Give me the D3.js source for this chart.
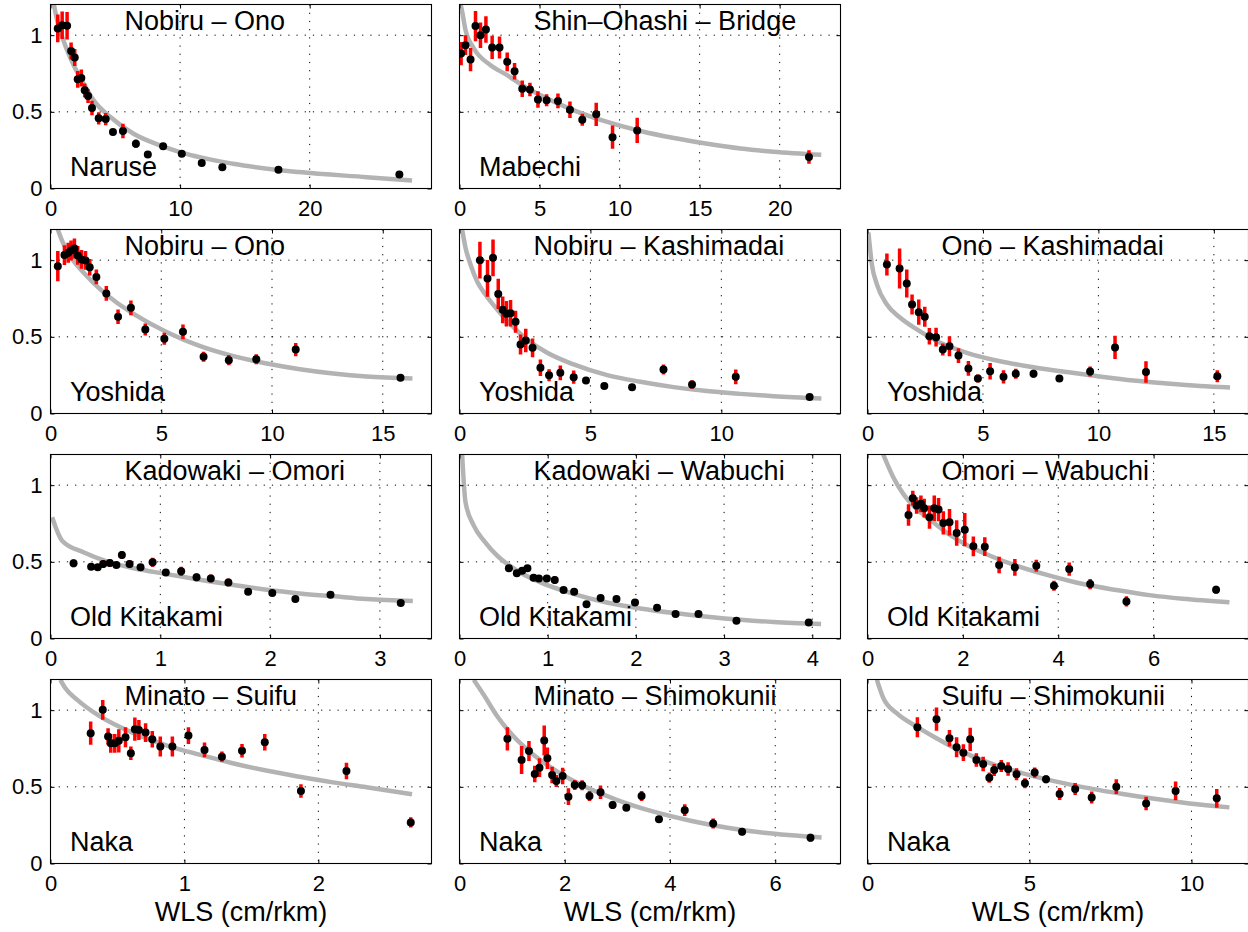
<!DOCTYPE html>
<html>
<head>
<meta charset="utf-8">
<script src="https://cdn.jsdelivr.net/npm/d3@7"></script>
<style>
  body { margin: 0; background: #fff; }
  svg { display: block; }
  text { font-family: "Liberation Sans", Arial, Helvetica, sans-serif; fill: #000; }
</style>
</head>
<body>
<svg id="chart" width="1248" height="932"></svg>
<script>
// ---- Shared axis values ----
const yTicks = [0, 0.5, 1];
const yMax = 1.2;
const xLabel = "WLS (cm/rkm)";

// ---- Panel: Nobiru – Ono (Naruse) ----
const naruseX   = [0.56,0.9,1.28,1.59,1.87,2.1,2.38,2.64,2.9,3.2,3.72,4.26,4.82,5.59,6.59,7.51,8.69,10.13,11.67,13.26,17.59,26.92];
const naruseY   = [1.044,1.065,1.061,0.897,0.854,0.712,0.721,0.64,0.603,0.525,0.458,0.453,0.368,0.375,0.292,0.222,0.275,0.227,0.166,0.139,0.122,0.092];
const naruseErr = [0.09,0.09,0.09,0.055,0.055,0.055,0.055,0.045,0.045,0.048,0.04,0.04,0.02,0.048,0.028,0.017,0.017,0.01,0.01,0.008,0.008,0.006];
const naruseFitX = [0.26,0.51,0.9,1.28,1.79,2.56,3.33,4.62,6.41,8.46,10,14.1,19.2,24.4,27.9];
const naruseFitY = [1.2,1.098,0.989,0.902,0.804,0.684,0.575,0.466,0.357,0.281,0.237,0.161,0.107,0.074,0.052];
const naruseTicks = [0, 10, 20];

// ---- Panel: Shin–Ohashi – Bridge (Mabechi) ----
const mabechiX   = [0.1,0.375,0.69,1.0,1.31,1.65,2.04,2.5,2.98,3.44,3.92,4.4,4.9,5.44,6.15,6.9,7.67,8.54,9.56,11.1,21.83];
const mabechiY   = [0.88,0.935,0.841,1.059,1.0,1.037,0.92,0.92,0.826,0.765,0.651,0.645,0.58,0.575,0.571,0.514,0.449,0.484,0.335,0.379,0.205];
const mabechiErr = [0.076,0.065,0.076,0.098,0.083,0.087,0.076,0.072,0.061,0.054,0.054,0.044,0.054,0.039,0.048,0.054,0.039,0.076,0.076,0.083,0.044];
const mabechiFitX = [0.06,0.104,0.375,0.9,1.94,2.98,4.02,5.06,7.15,9.23,11.31,13.4,15.48,17.56,19.6,22.6];
const mabechiFitY = [1.2,1.185,1.033,0.913,0.804,0.739,0.667,0.608,0.51,0.434,0.375,0.329,0.292,0.261,0.24,0.22];
const mabechiTicks = [0, 5, 10, 15, 20];

// ---- Panel: Nobiru – Ono (Yoshida) ----
const noOnoX   = [0.33,0.63,0.8,0.93,1.08,1.23,1.4,1.58,1.77,2.07,2.52,3.05,3.63,4.28,5.14,5.98,6.91,8.05,9.29,11.07,15.8];
const noOnoY   = [0.961,1.033,1.048,1.063,1.076,1.031,1.005,0.998,0.954,0.891,0.783,0.631,0.689,0.548,0.487,0.533,0.37,0.348,0.354,0.417,0.233];
const noOnoErr = [0.098,0.065,0.065,0.065,0.065,0.061,0.061,0.061,0.054,0.048,0.048,0.048,0.048,0.039,0.039,0.048,0.033,0.033,0.033,0.043,0.005];
const noOnoFitX = [0.33,0.53,0.75,1.05,1.5,2.25,3.0,3.75,5.26,6.76,8.26,9.76,11.26,12.76,14.27,16.34];
const noOnoFitY = [1.2,1.124,1.059,0.994,0.918,0.809,0.722,0.65,0.53,0.439,0.374,0.326,0.289,0.261,0.241,0.228];
const noOnoTicks = [0, 5, 10, 15];

// ---- Panel: Nobiru – Kashimadai (Yoshida) ----
const noKaX   = [0.78,1.07,1.28,1.48,1.65,1.79,1.95,2.14,2.33,2.53,2.79,3.09,3.42,3.85,4.36,4.83,5.53,6.59,7.79,8.88,10.55,13.37];
const noKaY   = [1.0,0.881,1.015,0.78,0.676,0.65,0.654,0.598,0.45,0.476,0.428,0.298,0.25,0.265,0.237,0.215,0.18,0.172,0.287,0.189,0.239,0.107];
const noKaErr = [0.12,0.12,0.12,0.098,0.087,0.083,0.087,0.072,0.065,0.076,0.061,0.054,0.039,0.048,0.043,0.01,0.01,0.01,0.033,0.028,0.048,0.006];
const noKaFitX = [0.1,0.23,0.42,0.67,0.99,1.44,1.95,2.58,3.35,4.36,5.64,6.91,8.18,9.45,10.73,12.0,13.82];
const noKaFitY = [1.2,1.081,0.972,0.863,0.776,0.678,0.581,0.483,0.396,0.32,0.25,0.207,0.172,0.146,0.128,0.113,0.098];
const noKaTicks = [0, 5, 10];

// ---- Panel: Ono – Kashimadai (Yoshida) ----
const onoKaX   = [0.84,1.39,1.7,1.93,2.22,2.48,2.68,2.97,3.26,3.55,3.94,4.37,4.78,5.31,5.89,6.42,7.19,8.31,9.64,10.72,12.06,15.15];
const onoKaY   = [0.972,0.946,0.848,0.711,0.661,0.631,0.504,0.498,0.417,0.439,0.378,0.294,0.228,0.276,0.239,0.259,0.259,0.228,0.274,0.431,0.27,0.243];
const onoKaErr = [0.072,0.13,0.091,0.065,0.083,0.065,0.054,0.061,0.039,0.065,0.048,0.048,0.026,0.054,0.043,0.033,0.026,0.006,0.033,0.076,0.07,0.039];
const onoKaFitX = [0.04,0.19,0.41,0.84,1.42,2.14,3.15,4.3,5.74,7.19,8.63,10.07,11.52,12.96,14.4,15.7];
const onoKaFitY = [1.18,0.972,0.841,0.711,0.624,0.548,0.461,0.396,0.341,0.302,0.27,0.241,0.215,0.196,0.18,0.17];
const onoKaTicks = [0, 5, 10, 15];

// ---- Panel: Kadowaki – Omori (Old Kitakami) ----
const kaOmX   = [0.21,0.37,0.43,0.48,0.54,0.6,0.65,0.72,0.82,0.93,1.05,1.19,1.33,1.46,1.62,1.8,2.02,2.23,2.55,3.19];
const kaOmY   = [0.49,0.468,0.464,0.486,0.492,0.479,0.545,0.486,0.464,0.497,0.431,0.438,0.399,0.392,0.366,0.305,0.296,0.257,0.286,0.231];
const kaOmErr = [0.025,0.015,0.015,0.025,0.025,0.02,0.025,0.025,0.02,0.03,0.02,0.03,0.025,0.025,0.025,0.015,0.015,0.015,0.015,0.01];
const kaOmFitX = [0.015,0.106,0.3,0.52,0.76,1.06,1.36,1.67,1.97,2.27,2.58,2.88,3.3];
const kaOmFitY = [0.791,0.638,0.562,0.501,0.458,0.42,0.383,0.349,0.318,0.294,0.275,0.257,0.244];
const kaOmTicks = [0, 1, 2, 3];

// ---- Panel: Kadowaki – Wabuchi (Old Kitakami) ----
const kaWaX   = [0.56,0.65,0.71,0.77,0.84,0.9,0.99,1.08,1.18,1.3,1.44,1.6,1.78,1.99,2.24,2.45,2.71,3.14,3.96];
const kaWaY   = [0.458,0.425,0.442,0.458,0.397,0.392,0.392,0.381,0.316,0.305,0.224,0.264,0.257,0.235,0.2,0.159,0.159,0.116,0.105];
const kaWaErr = [0.02,0.015,0.015,0.015,0.02,0.02,0.02,0.025,0.02,0.02,0.02,0.015,0.015,0.015,0.015,0.01,0.01,0.01,0.01];
const kaWaFitX = [0.03,0.068,0.162,0.276,0.427,0.654,0.918,1.3,1.67,2.05,2.43,2.81,3.19,3.56,4.1];
const kaWaFitY = [1.2,0.889,0.736,0.638,0.54,0.442,0.366,0.29,0.235,0.196,0.166,0.142,0.122,0.107,0.094];
const kaWaTicks = [0, 1, 2, 3, 4];

// ---- Panel: Omori – Wabuchi (Old Kitakami) ----
const omWaX   = [0.86,0.95,1.03,1.12,1.19,1.3,1.4,1.49,1.59,1.72,1.87,2.04,2.22,2.46,2.76,3.09,3.54,3.91,4.23,4.67,5.43,7.31];
const omWaY   = [0.806,0.915,0.867,0.878,0.85,0.791,0.85,0.841,0.754,0.758,0.688,0.71,0.601,0.599,0.479,0.464,0.475,0.344,0.453,0.355,0.242,0.318];
const omWaErr = [0.07,0.048,0.054,0.054,0.061,0.076,0.083,0.076,0.076,0.087,0.083,0.109,0.065,0.061,0.054,0.054,0.039,0.033,0.043,0.033,0.033,0.026];
const omWaFitX = [0.33,0.54,0.75,1.03,1.38,1.73,2.08,2.57,3.12,3.82,4.52,5.22,5.91,6.61,7.59];
const omWaFitY = [1.2,1.052,0.943,0.845,0.758,0.675,0.61,0.54,0.475,0.41,0.355,0.316,0.283,0.259,0.237];
const omWaTicks = [0, 2, 4, 6];

// ---- Panel: Minato – Suifu (Naka) ----
const miSuX   = [0.3,0.39,0.43,0.45,0.48,0.51,0.56,0.6,0.63,0.66,0.71,0.76,0.82,0.91,1.03,1.15,1.28,1.43,1.6,1.87,2.21,2.69];
const miSuY   = [0.85,1.002,0.828,0.784,0.784,0.8,0.823,0.719,0.876,0.871,0.854,0.81,0.763,0.763,0.834,0.741,0.697,0.736,0.791,0.473,0.603,0.268];
const miSuErr = [0.076,0.065,0.054,0.061,0.061,0.076,0.065,0.044,0.076,0.065,0.061,0.054,0.065,0.065,0.054,0.048,0.033,0.044,0.054,0.044,0.054,0.033];
const miSuFitX = [0.074,0.11,0.2,0.37,0.62,0.87,1.12,1.36,1.61,1.86,2.11,2.36,2.7];
const miSuFitY = [1.198,1.144,1.067,0.959,0.85,0.769,0.708,0.654,0.606,0.566,0.529,0.497,0.451];
const miSuTicks = [0, 1, 2];

// ---- Panel: Minato – Shimokunii (Naka) ----
const miShX   = [0.91,1.18,1.32,1.43,1.52,1.61,1.67,1.76,1.84,1.96,2.07,2.19,2.33,2.47,2.68,2.91,3.17,3.46,3.79,4.28,4.82,5.37,6.67];
const miShY   = [0.813,0.675,0.734,0.584,0.625,0.802,0.686,0.577,0.538,0.571,0.436,0.512,0.51,0.44,0.464,0.381,0.364,0.44,0.288,0.348,0.261,0.207,0.168];
const miShErr = [0.076,0.092,0.065,0.054,0.061,0.098,0.07,0.054,0.039,0.054,0.054,0.033,0.033,0.033,0.044,0.026,0.022,0.033,0.011,0.039,0.033,0.022,0.026];
const miShFitX = [0.27,0.46,0.72,1.03,1.41,1.86,2.36,3.0,3.69,4.39,5.09,5.79,6.88];
const miShFitY = [1.198,1.1,0.959,0.828,0.708,0.599,0.505,0.414,0.338,0.279,0.233,0.2,0.17];
const miShTicks = [0, 2, 4, 6];

// ---- Panel: Suifu – Shimokunii (Naka) ----
const suShX   = [1.54,2.13,2.53,2.75,2.96,3.17,3.36,3.57,3.76,3.91,4.13,4.34,4.6,4.86,5.16,5.51,5.93,6.41,6.92,7.68,8.6,9.51,10.78];
const suShY   = [0.889,0.941,0.817,0.758,0.723,0.81,0.675,0.649,0.56,0.61,0.636,0.617,0.582,0.523,0.593,0.549,0.453,0.486,0.431,0.501,0.392,0.473,0.425];
const suShErr = [0.065,0.076,0.054,0.065,0.054,0.076,0.044,0.048,0.033,0.039,0.039,0.044,0.039,0.033,0.033,0.026,0.039,0.039,0.039,0.048,0.044,0.061,0.061];
const suShFitX = [0.29,0.49,0.9,1.52,2.13,2.85,3.78,4.8,5.83,6.86,7.88,8.91,9.94,11.17];
const suShFitY = [1.198,1.078,0.98,0.893,0.817,0.736,0.654,0.588,0.534,0.49,0.453,0.42,0.392,0.366];
const suShTicks = [0, 5, 10];

// ---- Panel assembly: grid position, titles, x extent ----
const panels = [
  { row: 0, col: 0, title: "Nobiru – Ono",        river: "Naruse",       xMax: 29.4,  xs: naruseX,  ys: naruseY,  es: naruseErr,  fx: naruseFitX,  fy: naruseFitY,  ticks: naruseTicks },
  { row: 0, col: 1, title: "Shin–Ohashi – Bridge", river: "Mabechi",     xMax: 23.8,  xs: mabechiX, ys: mabechiY, es: mabechiErr, fx: mabechiFitX, fy: mabechiFitY, ticks: mabechiTicks },
  { row: 1, col: 0, title: "Nobiru – Ono",        river: "Yoshida",      xMax: 17.2,  xs: noOnoX,   ys: noOnoY,   es: noOnoErr,   fx: noOnoFitX,   fy: noOnoFitY,   ticks: noOnoTicks },
  { row: 1, col: 1, title: "Nobiru – Kashimadai", river: "Yoshida",      xMax: 14.55, xs: noKaX,    ys: noKaY,    es: noKaErr,    fx: noKaFitX,    fy: noKaFitY,    ticks: noKaTicks },
  { row: 1, col: 2, title: "Ono – Kashimadai",    river: "Yoshida",      xMax: 16.5,  xs: onoKaX,   ys: onoKaY,   es: onoKaErr,   fx: onoKaFitX,   fy: onoKaFitY,   ticks: onoKaTicks },
  { row: 2, col: 0, title: "Kadowaki – Omori",    river: "Old Kitakami", xMax: 3.47,  xs: kaOmX,    ys: kaOmY,    es: kaOmErr,    fx: kaOmFitX,    fy: kaOmFitY,    ticks: kaOmTicks },
  { row: 2, col: 1, title: "Kadowaki – Wabuchi",  river: "Old Kitakami", xMax: 4.32,  xs: kaWaX,    ys: kaWaY,    es: kaWaErr,    fx: kaWaFitX,    fy: kaWaFitY,    ticks: kaWaTicks },
  { row: 2, col: 2, title: "Omori – Wabuchi",     river: "Old Kitakami", xMax: 7.99,  xs: omWaX,    ys: omWaY,    es: omWaErr,    fx: omWaFitX,    fy: omWaFitY,    ticks: omWaTicks },
  { row: 3, col: 0, title: "Minato – Suifu",      river: "Naka",         xMax: 2.845, xs: miSuX,    ys: miSuY,    es: miSuErr,    fx: miSuFitX,    fy: miSuFitY,    ticks: miSuTicks },
  { row: 3, col: 1, title: "Minato – Shimokunii", river: "Naka",         xMax: 7.24,  xs: miShX,    ys: miShY,    es: miShErr,    fx: miShFitX,    fy: miShFitY,    ticks: miShTicks },
  { row: 3, col: 2, title: "Suifu – Shimokunii",  river: "Naka",         xMax: 11.76, xs: suShX,    ys: suShY,    es: suShErr,    fx: suShFitX,    fy: suShFitY,    ticks: suShTicks }
];

// ---- Layout ----
const colLeft = [50.5, 459.5, 867.5];
const rowTop  = [4.5, 229.5, 454.5, 679.5];
const W = 381, H = 184;
const tickLen = 4;

const svg = d3.select("#chart");
svg.append("rect").attr("width", 1248).attr("height", 932).attr("fill", "#fff");

panels.forEach((p, i) => {
  const g = svg.append("g").attr("transform", `translate(${colLeft[p.col]},${rowTop[p.row]})`);
  const x = d3.scaleLinear().domain([0, p.xMax]).range([0, W]);
  const y = d3.scaleLinear().domain([0, yMax]).range([H, 0]);

  const clipId = "clip" + i;
  g.append("clipPath").attr("id", clipId)
    .append("rect").attr("width", W).attr("height", H);

  g.append("rect").attr("width", W).attr("height", H).attr("fill", "#fff");

  // dotted grid
  const grid = g.append("g").attr("stroke", "#000").attr("stroke-width", 1)
    .attr("stroke-dasharray", "1.2,7");
  grid.selectAll("line.gx").data(p.ticks.filter(t => t > 0)).join("line")
    .attr("x1", d => x(d)).attr("x2", d => x(d)).attr("y1", 0).attr("y2", H);
  grid.selectAll("line.gy").data(yTicks.filter(t => t > 0)).join("line")
    .attr("x1", 0).attr("x2", W).attr("y1", d => y(d)).attr("y2", d => y(d));

  const plot = g.append("g").attr("clip-path", `url(#${clipId})`);

  // fitted curve
  const fit = p.fx.map((v, k) => [v, p.fy[k]]);
  plot.append("path").datum(fit)
    .attr("fill", "none").attr("stroke", "#b3b3b3").attr("stroke-width", 4.5)
    .attr("stroke-linejoin", "round")
    .attr("d", d3.line().x(d => x(d[0])).y(d => y(d[1])).curve(d3.curveMonotoneX));

  const pts = p.xs.map((v, k) => ({ x: v, y: p.ys[k], e: p.es[k] }));

  // error bars
  plot.selectAll("line.err").data(pts).join("line")
    .attr("x1", d => x(d.x)).attr("x2", d => x(d.x))
    .attr("y1", d => y(d.y - d.e)).attr("y2", d => y(d.y + d.e))
    .attr("stroke", "#ff0000").attr("stroke-width", 3.5);

  // points
  plot.selectAll("circle").data(pts).join("circle")
    .attr("cx", d => x(d.x)).attr("cy", d => y(d.y)).attr("r", 4)
    .attr("fill", "#000");

  // axes with inward ticks on all four sides
  const axB = d3.axisBottom(x).tickValues(p.ticks).tickSizeInner(-tickLen).tickSizeOuter(0)
    .tickPadding(11.5).tickFormat(d3.format("~g"));
  const axT = d3.axisTop(x).tickValues(p.ticks).tickSizeInner(-tickLen).tickSizeOuter(0).tickFormat("");
  const axL = d3.axisLeft(y).tickValues(yTicks).tickSizeInner(-tickLen).tickSizeOuter(0)
    .tickPadding(8).tickFormat(p.col === 0 ? d3.format("~g") : () => "");
  const axR = d3.axisRight(y).tickValues(yTicks).tickSizeInner(-tickLen).tickSizeOuter(0).tickFormat("");

  const styleAxis = sel => {
    sel.select(".domain").remove();
    sel.selectAll("line").attr("stroke", "#000").attr("stroke-width", 1);
    sel.selectAll("text").attr("font-size", 22).attr("font-family", null).attr("fill", "#000");
  };
  g.append("g").attr("transform", `translate(0,${H})`).call(axB).call(styleAxis);
  g.append("g").call(axT).call(styleAxis);
  g.append("g").call(axL).call(styleAxis);
  g.append("g").attr("transform", `translate(${W},0)`).call(axR).call(styleAxis);

  // frame
  g.append("rect").attr("width", W).attr("height", H)
    .attr("fill", "none").attr("stroke", "#000").attr("stroke-width", 1.1);

  // reach label and river name
  g.append("text").attr("x", 74).attr("y", 25.5).attr("font-size", 27).text(p.title);
  g.append("text").attr("x", 19.5).attr("y", H - 13).attr("font-size", 27).text(p.river);

  if (p.row === 3) {
    g.append("text").attr("x", W / 2).attr("y", H + 57).attr("text-anchor", "middle")
      .attr("font-size", 27).text(xLabel);
  }
});
</script>
</body>
</html>
